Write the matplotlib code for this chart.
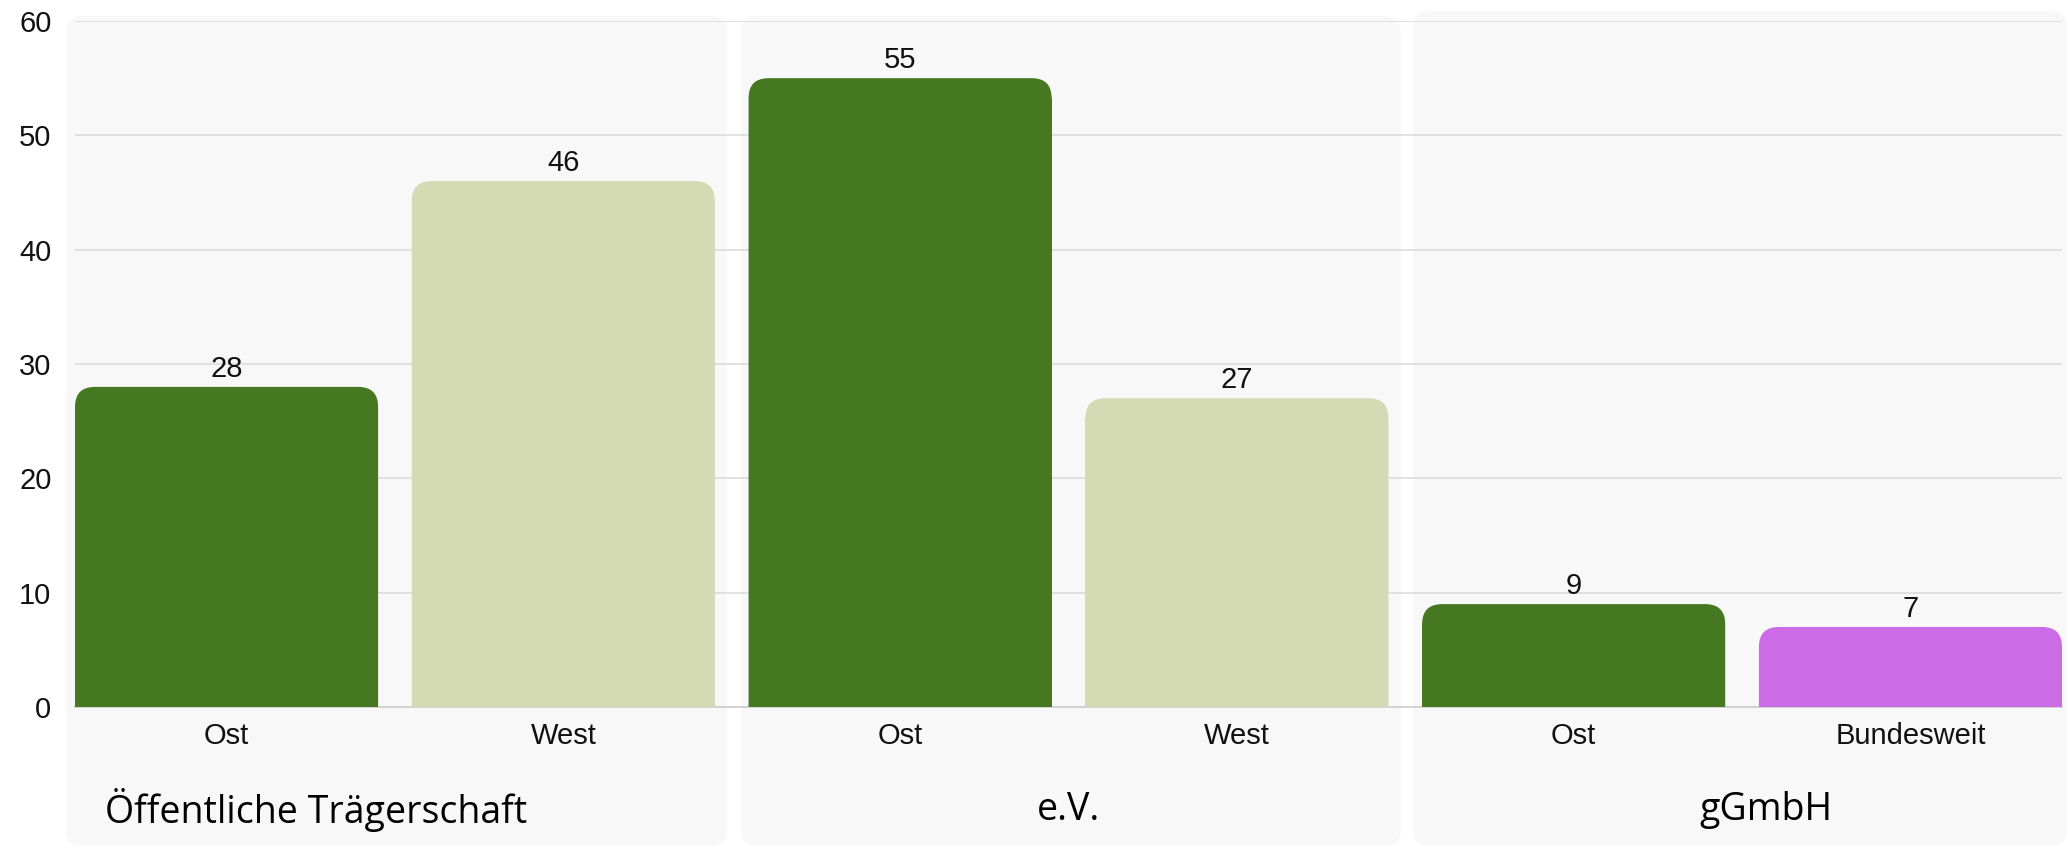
import matplotlib
matplotlib.use("Agg")
import matplotlib.pyplot as plt
from matplotlib.patches import FancyBboxPatch
from matplotlib.transforms import blended_transform_factory

# ---- data ----
categories = ["Ost", "West", "Ost", "West", "Ost", "Bundesweit"]
values = [28, 46, 55, 27, 9, 7]
bar_colors = ["#467822", "#d4dab4", "#467822", "#d4dab4", "#467822", "#cb6ce6"]
groups = ["Öffentliche Trägerschaft", "e.V.", "gGmbH"]
y_ticks = [0, 10, 20, 30, 40, 50, 60]

W, H = 2068, 848
DPI = 100
fig = plt.figure(figsize=(W / DPI, H / DPI), dpi=DPI)
fig.patch.set_facecolor("white")

# panel backgrounds (figure pixel coords -> fractions)
panels_px = [(66, 16, 727, 846), (741, 16, 1401, 846), (1413, 11, 2067, 846)]
for (x0, y0, x1, y1) in panels_px:
    p = FancyBboxPatch((x0 / W, 1 - y1 / H), (x1 - x0) / W, (y1 - y0) / H,
                       boxstyle="round,pad=0,rounding_size=0.008",
                       mutation_aspect=W / H,
                       transform=fig.transFigure, facecolor="#f8f8f8",
                       edgecolor="none", zorder=-5)
    fig.patches.append(p)

left, right = 75 / W, 2062 / W
bottom, top = 1 - 707 / H, 1 - 21 / H
ax = fig.add_axes([left, bottom, right - left, top - bottom])
ax.patch.set_alpha(0)
ax.set_zorder(2)

bw = 0.9
x = list(range(len(values)))
bars = ax.bar(x, values, width=bw, color=bar_colors, zorder=3, linewidth=0)
ax.set_xlim(-bw / 2, len(values) - 1 + bw / 2)
ax.set_ylim(0, 60)

# rounded top corners: bar body is the library bar, the top is a rounded patch
ax_w_px = (right - left) * W
ax_h_px = (top - bottom) * H
xunit = ax_w_px / (len(values) - 1 + bw)
yunit = ax_h_px / 60
r_px = 20
rx = r_px / xunit
ry = r_px / yunit
for b, c in zip(bars, bar_colors):
    h = b.get_height()
    x0 = b.get_x()
    w = b.get_width()
    b.set_height(max(h - ry, 0))
    fp = FancyBboxPatch((x0, -3 * ry), w, h + 3 * ry,
                        boxstyle=f"round,pad=0,rounding_size={rx}",
                        mutation_aspect=ry / rx,
                        facecolor=c, edgecolor="none", linewidth=0, zorder=3)
    ax.add_patch(fp)

# value labels
for xi, v in zip(x, values):
    ax.annotate(str(v), (xi, v), xytext=(0, 3), textcoords="offset points",
                ha="center", va="bottom", fontsize=21,
                family=["Liberation Sans", "DejaVu Sans"], color="#111111", zorder=4)

# grid
ax.set_yticks(y_ticks)
ax.yaxis.grid(True, color="#dedede", linewidth=1.3, zorder=1)
ax.set_axisbelow(True)
for s in ["top", "right", "left"]:
    ax.spines[s].set_visible(False)
ax.spines["bottom"].set_color("#d0d0d0")
ax.spines["bottom"].set_linewidth(1.3)
ax.spines["bottom"].set_zorder(2)

ax.set_xticks(x)
ax.set_xticklabels(categories)
ax.tick_params(axis="both", length=0, labelsize=21, colors="#111111")
ax.tick_params(axis="y", pad=17)
ax.tick_params(axis="x", pad=11)
for lab in ax.get_xticklabels() + ax.get_yticklabels():
    lab.set_family(["Liberation Sans", "DejaVu Sans"])

# group labels
gfont = ["Open Sans", "DejaVu Sans"]
ty = 1 - 810 / H
fig.text(105 / W, ty, groups[0], ha="left", va="center", fontsize=27, family=gfont)
trans = blended_transform_factory(ax.transData, fig.transFigure)
fig.text(2.5, ty, groups[1], ha="center", va="center", fontsize=27, family=gfont,
         transform=trans)
fig.text(4.57, ty, groups[2], ha="center", va="center", fontsize=27, family=gfont,
         transform=trans)

fig.savefig("out.png", dpi=DPI, facecolor="white")
